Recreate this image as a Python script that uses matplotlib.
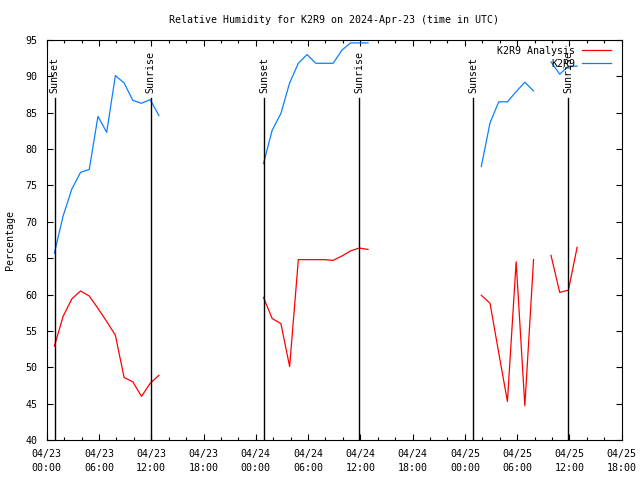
import numpy as np
import matplotlib
matplotlib.use('Agg')
from matplotlib import pyplot as plt
import matplotlib.dates as mdates
from datetime import datetime, timedelta

nan = np.nan
start = datetime(2024, 4, 23, 0, 0)

# hourly observations (taken at :53 past the hour), hours after 04/23 00:00
day1_hours = list(range(0, 13))
day2_hours = list(range(24, 37))
day3_hours = list(range(49, 61))

blue1 = [65.7, 70.8, 74.5, 76.8, 77.2, 84.5, 82.3, 90.1, 89.1, 86.7, 86.3, 86.8, 84.6]
blue2 = [78.0, 82.6, 84.9, 89.1, 91.8, 93.0, 91.8, 91.8, 91.8, 93.6, 94.6, 94.6, 94.6]
blue3 = [77.6, 83.6, 86.5, 86.5, 87.9, 89.2, 88.0, nan, 92.0, 90.3, 91.4, 91.4]

red1 = [52.9, 57.0, 59.4, 60.5, 59.8, 58.1, 56.3, 54.4, 48.6, 48.0, 46.0, 47.8, 48.9]
red2 = [59.6, 56.7, 56.0, 50.1, 64.8, 64.8, 64.8, 64.8, 64.7, 65.3, 66.0, 66.4, 66.2]
red3 = [59.9, 58.8, 52.0, 45.3, 64.5, 44.7, 64.8, nan, 65.4, 60.3, 60.6, 66.5]

sunsets = ['2024-04-23 00:54', '2024-04-24 00:57', '2024-04-25 00:58']
sunrises = ['2024-04-23 11:57', '2024-04-24 11:54', '2024-04-25 11:53']


def to_times(hours):
    return [start + timedelta(hours=h, minutes=53) for h in hours]


# one continuous series with gaps between the days
gap = [nan]
times = to_times(day1_hours) + [start + timedelta(hours=18)] + to_times(day2_hours) \
    + [start + timedelta(hours=43)] + to_times(day3_hours)
blue = blue1 + gap + blue2 + gap + blue3
red = red1 + gap + red2 + gap + red3

plt.rcParams['font.family'] = 'DejaVu Sans Mono'
plt.rcParams['font.size'] = 7.2

fig = plt.figure(figsize=(6.4, 4.8), dpi=100)
ax = fig.add_axes([46.7/640, 40/480, 575/640, 400/480])

ax.plot(times, red, color='#ff0000', lw=0.9, label='K2R9 Analysis')
ax.plot(times, blue, color='#0a80ff', lw=0.9, label='K2R9')

for s in sunsets:
    t = datetime.strptime(s, '%Y-%m-%d %H:%M')
    ax.plot([t, t], [40, 87], color='black', lw=1)
    ax.text(t, 87.7, 'Sunset', rotation=90, ha='center', va='bottom')
for s in sunrises:
    t = datetime.strptime(s, '%Y-%m-%d %H:%M')
    ax.plot([t, t], [40, 87], color='black', lw=1)
    ax.text(t, 87.7, 'Sunrise', rotation=90, ha='center', va='bottom')

ax.set_xlim(start, start + timedelta(hours=66))
ax.set_ylim(40, 95)
ax.set_yticks(range(40, 96, 5))
ax.xaxis.set_major_locator(mdates.HourLocator(byhour=[0, 6, 12, 18]))
ax.xaxis.set_minor_locator(mdates.HourLocator(byhour=range(0, 24, 2)))
ax.xaxis.set_major_formatter(mdates.DateFormatter('%m/%d\n%H:%M'))
for lbl in ax.get_xticklabels():
    lbl.set_linespacing(1.45)

ax.tick_params(which='both', direction='in', top=True, right=True, width=0.8)
ax.tick_params(which='major', length=4, pad=6.5)
ax.tick_params(which='minor', length=2)
for sp in ax.spines.values():
    sp.set_linewidth(0.8)

ax.set_ylabel('Percentage')
ax.yaxis.set_label_coords(-0.055, 0.5)

fig.text(334/640, 1 - 20/480, 'Relative Humidity for K2R9 on 2024-Apr-23 (time in UTC)',
         ha='center', va='center')

ax.legend(loc='upper right', bbox_to_anchor=(0.982, 0.985), frameon=False,
          markerfirst=False, handlelength=2.9, handletextpad=0.7,
          labelspacing=0.3, borderpad=0, borderaxespad=0)

fig.savefig('out.png', dpi=100)
